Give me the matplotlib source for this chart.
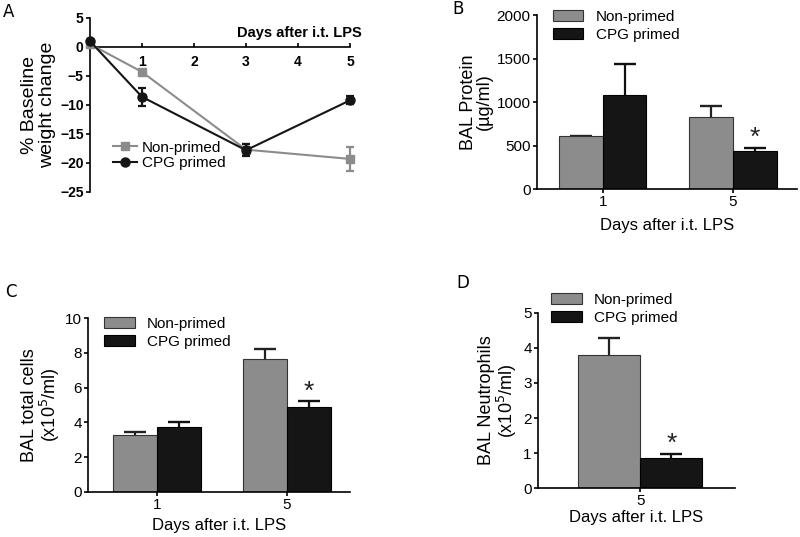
import numpy as np
import matplotlib.pyplot as plt

plt.rcParams['font.family'] = ['Liberation Sans', 'DejaVu Sans']

GRAY = '#8c8c8c'
BLACK = '#151515'

# Panel A: weight change over time
days_a = [0, 1, 3, 5]
np_weight = [0.5, -4.3, -17.7, -19.3]
np_weight_err = [0.0, 0.3, 0.9, 2.0]
cpg_weight = [1.0, -8.6, -17.8, -9.2]
cpg_weight_err = [0.0, 1.5, 1.0, 0.7]

# Panel B: BAL protein
days_b = ['1', '5']
np_protein = [605, 828]
np_protein_err = [10, 126]
cpg_protein = [1080, 437]
cpg_protein_err = [357, 34]

# Panel C: BAL total cells
np_cells = [3.28, 7.64]
np_cells_err = [0.18, 0.58]
cpg_cells = [3.76, 4.88]
cpg_cells_err = [0.26, 0.34]

# Panel D: BAL neutrophils
days_d = ['5']
np_neut = [3.8]
np_neut_err = [0.49]
cpg_neut = [0.86]
cpg_neut_err = [0.11]

fig = plt.figure(figsize=(8, 5.37), dpi=100)


def style_axes(ax, size=11):
    ax.spines['top'].set_visible(False)
    ax.spines['right'].set_visible(False)
    for s in ['left', 'bottom']:
        ax.spines[s].set_linewidth(1.2)
    ax.tick_params(direction='out', width=1.2, length=3, pad=1.5, labelsize=size)


def upper_err(ax, x, vals, err, color):
    tops = np.asarray(vals) + np.asarray(err)
    ax.vlines(x, vals, tops, color=color, lw=1.6, zorder=1)
    ax.plot(x, tops, ls='none', marker='_', ms=16, mew=1.7, color=color, zorder=1)


def bar_panel(ax, labels, np_vals, np_err, cpg_vals, cpg_err, w, xpad):
    x = np.arange(len(labels))
    ax.bar(x - w / 2, np_vals, w, color=GRAY, edgecolor='#333333', linewidth=0.8,
           label='Non-primed', zorder=2)
    ax.bar(x + w / 2, cpg_vals, w, color=BLACK, edgecolor='#000000', linewidth=0.8,
           label='CPG primed', zorder=2)
    upper_err(ax, x - w / 2, np_vals, np_err, '#222222')
    upper_err(ax, x + w / 2, cpg_vals, cpg_err, '#111111')
    # significance star on the last CPG bar
    ax.annotate('*', (x[-1] + w / 2, cpg_vals[-1] + cpg_err[-1]), xytext=(0, 2),
                textcoords='offset points', ha='center', va='baseline', fontsize=19,
                color='#222222')
    ax.set_xticks(x)
    ax.set_xticklabels(labels)
    ax.set_xlabel('Days after i.t. LPS', fontsize=12, labelpad=xpad)
    style_axes(ax)


def bar_legend(ax, y, x=0.062):
    ax.legend(loc='upper left', bbox_to_anchor=(x, y), frameon=False, fontsize=11,
              handlelength=2.0, handleheight=0.7, handletextpad=0.8, labelspacing=0.25,
              borderpad=0, borderaxespad=0)


# ---- A ----
axA = fig.add_axes([0.1125, 0.6425, 0.325, 0.324])
axA.errorbar(days_a, np_weight, yerr=np_weight_err, fmt='none', ecolor=GRAY,
             capsize=3, capthick=1.6, elinewidth=1.6, clip_on=False, zorder=3)
axA.errorbar(days_a, cpg_weight, yerr=cpg_weight_err, fmt='none', ecolor=BLACK,
             capsize=3, capthick=1.6, elinewidth=1.6, clip_on=False, zorder=4)
axA.plot(days_a, np_weight, color=GRAY, marker='s', ms=6, lw=1.5, label='Non-primed',
         clip_on=False, zorder=3)
axA.plot(days_a, cpg_weight, color=BLACK, marker='o', ms=6.5, lw=1.5, label='CPG primed',
         clip_on=False, zorder=4)
axA.set_xlim(0, 5)
axA.set_ylim(-25, 5)
axA.set_yticks(range(-25, 6, 5))
axA.set_xticks(range(1, 6))
axA.spines['bottom'].set_position(('data', 0))
style_axes(axA, size=10)
axA.tick_params(axis='x', direction='in', pad=6)
for lab in axA.get_xticklabels() + axA.get_yticklabels():
    lab.set_fontweight('bold')
axA.text(5.23, 2.4, 'Days after i.t. LPS', ha='right', va='center', fontsize=10.5,
         fontweight='bold')
axA.set_ylabel('% Baseline\nweight change', fontsize=14, labelpad=3, linespacing=1.1)
axA.legend(loc='center left', bbox_to_anchor=(0.088, 0.21), frameon=False, fontsize=11,
           handlelength=1.6, handletextpad=0.3, labelspacing=0.1, borderpad=0,
           borderaxespad=0)
fig.text(0.004, 0.978, 'A', fontsize=12, family='DejaVu Sans', va='center')

# ---- B ----
axB = fig.add_axes([0.671, 0.648, 0.325, 0.324])
bar_panel(axB, days_b, np_protein, np_protein_err, cpg_protein, cpg_protein_err, 0.335, 6)
axB.set_xlim(-0.508, 1.49)
axB.set_ylim(0, 2000)
axB.set_yticks(range(0, 2001, 500))
axB.set_ylabel('BAL Protein\n(\u00b5g/ml)', fontsize=13, labelpad=3, linespacing=0.9)
bar_legend(axB, 1.03)
fig.text(0.565, 0.983, 'B', fontsize=12, family='DejaVu Sans', va='center')

# ---- C ----
axC = fig.add_axes([0.11, 0.0838, 0.3275, 0.324])
bar_panel(axC, days_b, np_cells, np_cells_err, cpg_cells, cpg_cells_err, 0.34, 4)
axC.set_xlim(-0.53, 1.485)
axC.set_ylim(0, 10)
axC.set_yticks(range(0, 11, 2))
axC.set_ylabel('BAL total cells\n(x10$^5$/ml)', fontsize=13, labelpad=2, linespacing=1.0)
bar_legend(axC, 1.005)
fig.text(0.006, 0.456, 'C', fontsize=12, family='DejaVu Sans', va='center')

# ---- D ----
axD = fig.add_axes([0.6725, 0.0912, 0.2463, 0.326])
bar_panel(axD, days_d, np_neut, np_neut_err, cpg_neut, cpg_neut_err, 0.4, 1)
axD.set_xlim(-0.66, 0.61)
axD.set_ylim(0, 5)
axD.set_yticks(range(0, 6))
axD.set_ylabel('BAL Neutrophils\n(x10$^5$/ml)', fontsize=13, labelpad=3, linespacing=1.0)
bar_legend(axD, 1.115, x=0.066)
fig.text(0.571, 0.473, 'D', fontsize=12, family='DejaVu Sans', va='center')

fig.savefig('out.png', dpi=100)
